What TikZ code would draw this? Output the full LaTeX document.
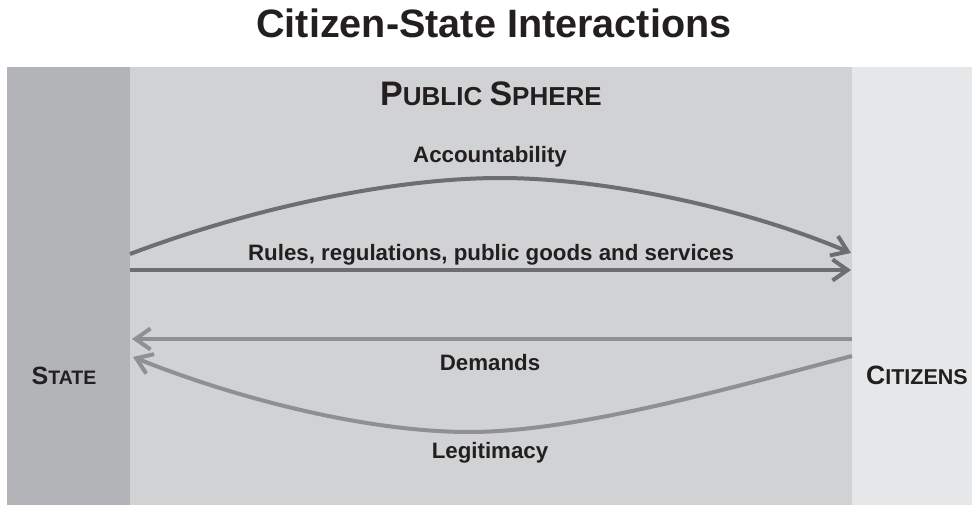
\documentclass[tikz,border=0pt]{standalone}
\usepackage{fontspec}
\setmainfont{Liberation Sans}
\usepackage{tikz}
\usetikzlibrary{positioning}
\usetikzlibrary{arrows.meta}

\definecolor{statefill}{HTML}{B3B4B7}
\definecolor{spherefill}{HTML}{D1D2D4}
\definecolor{citizenfill}{HTML}{E6E7E8}
\definecolor{darkarrow}{HTML}{6D6E71}
\definecolor{lightarrow}{HTML}{8F9093}
\definecolor{inktext}{HTML}{231F20}

\newcommand{\bigsc}[2]{{\fontsize{#1}{#1}\selectfont #2}}

\begin{document}
\begin{tikzpicture}[x=1pt, y=-1pt,
                          labeltext/.style={anchor=base, inner sep=0pt, text=inktext, font=\bfseries\fontsize{22.3}{22.3}\selectfont},
                          headtext/.style={anchor=base, inner sep=0pt, text=inktext, font=\bfseries},
                          arrowdark/.style={draw=darkarrow, line width=4pt, -{Straight Barb[length=15pt, width=21pt]}},
                          arrowlight/.style={draw=lightarrow, line width=4pt, -{Straight Barb[length=15pt, width=21pt]}},
                      ]
                      \useasboundingbox (0,0) rectangle (972,505);

                      %Bands
                      \fill[spherefill] (130,67) rectangle (852,505);
                      \fill[statefill] (7,67) rectangle (130,505);
                      \fill[citizenfill] (852,67) rectangle (972,505);

                      %Nodes
                      \node[headtext, font=\bfseries\fontsize{39.6}{39.6}\selectfont] (title) at (494,38) {Citizen-State Interactions};
                      \node[headtext] (sphere) at (491,106) {\bigsc{34}{P}\bigsc{26}{UBLIC }\bigsc{34}{S}\bigsc{26}{PHERE}};
                      \node[headtext] (state) at (64,384) {\bigsc{25}{S}\bigsc{19.5}{TATE}};
                      \node[headtext] (citizens) at (917,384) {\bigsc{26.5}{C}\bigsc{21.5}{ITIZENS}};
                      \node[labeltext] (acc) at (490,163) {Accountability};
                      \node[labeltext] (rules) at (491,261) {Rules, regulations, public goods and services};
                      \node[labeltext] (dem) at (490,370) {Demands};
                      \node[labeltext] (leg) at (490,458) {Legitimacy};

                      %Ends
                      \coordinate (acc_s) at (130,254);
                      \coordinate (acc_top) at (500,178);
                      \coordinate (acc_e) at (851,253);
                      \coordinate (rules_s) at (130,270);
                      \coordinate (rules_e) at (851,270);
                      \coordinate (dem_s) at (852,339);
                      \coordinate (dem_e) at (132,339);
                      \coordinate (leg_s) at (852,356);
                      \coordinate (leg_low) at (469,432);
                      \coordinate (leg_e) at (133,357);

                      %Lines
                      \draw[arrowdark] (acc_s) .. controls (260,205) and (400,178) .. (acc_top)
                                               .. controls (600,178) and (740,206) .. (acc_e);
                      \draw[arrowdark] (rules_s) -- (rules_e);
                      \draw[arrowlight] (dem_s) -- (dem_e);
                      \draw[arrowlight] (leg_s) .. controls (740,385) and (580,432) .. (leg_low)
                                                .. controls (370,432) and (240,400) .. (leg_e);
                  \end{tikzpicture}
\end{document}
